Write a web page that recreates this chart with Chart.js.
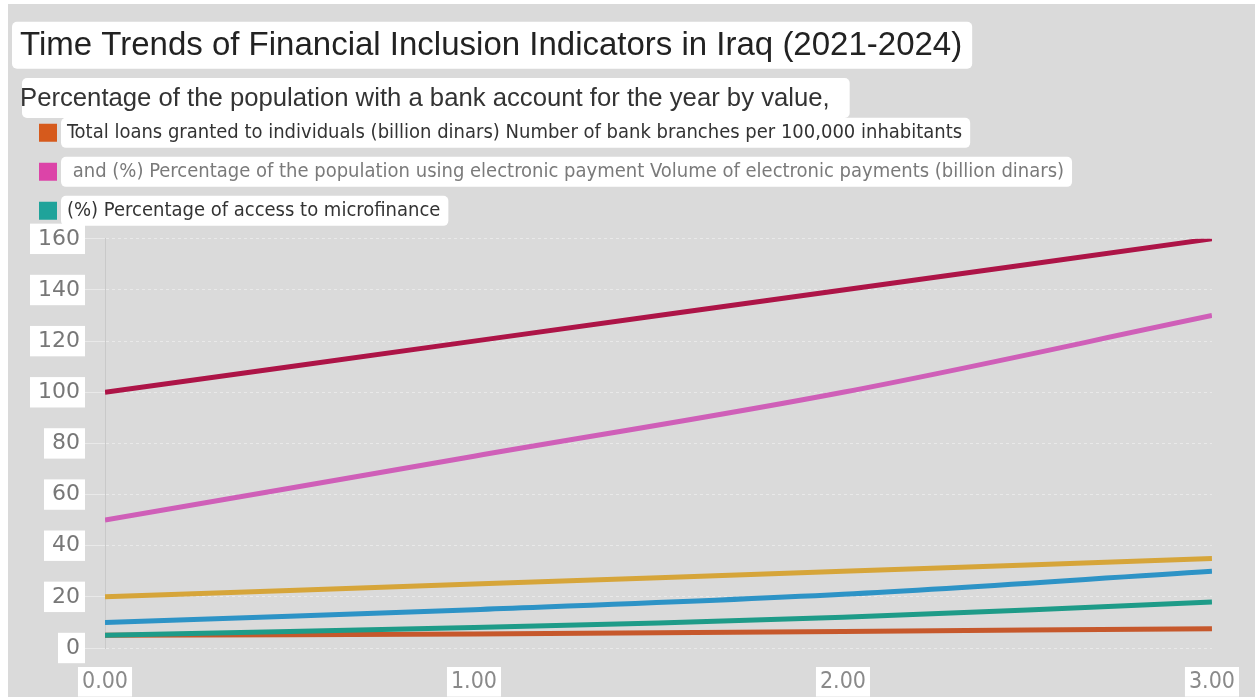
<!DOCTYPE html>
<html>
<head>
<meta charset="utf-8">
<script src="https://cdn.jsdelivr.net/npm/chart.js@4/dist/chart.umd.min.js"></script>
<style>
  body { margin: 0; background: #ffffff; }
  #wrap { width: 1255px; height: 697px; position: relative; }
</style>
</head>
<body>
<div id="wrap"><canvas id="trendChart"></canvas></div>
<script>
// ==========================
// DATA
// ==========================
const years = [0, 1, 2, 3];

const bankAccount = [100, 120, 140, 160];
const electronicPayments = [50, 75, 100, 130];
const loans = [20, 25, 30, 35];
const branches = [10, 15, 21, 30];
const microfinance = [5, 8, 12, 18];
const epayUsers = [5, 5.5, 6.5, 7.5];

const titleText = 'Time Trends of Financial Inclusion Indicators in Iraq (2021-2024)';
const subtitleText = 'Percentage of the population with a bank account for the year by value,';

const legendTexts = [
    'Total loans granted to individuals (billion dinars) Number of bank branches per 100,000 inhabitants',
    ' and (%) Percentage of the population using electronic payment Volume of electronic payments (billion dinars)',
    '(%) Percentage of access to microfinance'
];
const legendColors = ['#d65a1c', '#dc44a8', '#1fa39a'];
const legendTextColors = ['#333333', '#7a7a7a', '#333333'];

const yTicks = [0, 20, 40, 60, 80, 100, 120, 140, 160];


function toPoints(values) {
    return values.map((v, i) => ({ x: years[i], y: v }));
}

const TITLE_SIZE = 33;
const TITLE_PAD = 26;
const SUB_SIZE = 25.7;
const NARROW = '"Liberation Sans Narrow", "DejaVu Sans Condensed", Arial, sans-serif';


// ==========================
// BACKGROUND + WHITE LABEL BOXES
// ==========================
const highlightPlugin = {
    id: 'highlight',
    beforeUpdate(chart) {
        // a bit more room between the legend and the plot
        const lg = chart.legend;
        if (lg && !lg._extraRoom) {
            const fit = lg.fit.bind(lg);
            lg.fit = function () { fit(); this.height += 8; };
            lg._extraRoom = true;
        }
    },
    beforeDraw(chart) {
        const c = chart.ctx;
        c.save();
        c.fillStyle = '#dadada';
        c.fillRect(8, 4, chart.width - 8, chart.height - 4);

        c.fillStyle = '#ffffff';

        // title
        const tb = chart.titleBlock;
        c.font = TITLE_SIZE + 'px "Liberation Sans", Arial, sans-serif';
        const tw = c.measureText(titleText).width;
        const tMid = tb.top + TITLE_PAD + TITLE_SIZE * 0.6;
        roundBox(c, tb.left - 8, tMid - 24, tw + 18, 47);

        // subtitle
        c.font = SUB_SIZE + 'px "Liberation Sans", Arial, sans-serif';
        const sw = c.measureText(subtitleText).width;
        roundBox(c, tb.left + 2, 78, sw + 18, 40);

        // legend rows
        chart.legend.legendHitBoxes.forEach(hb => {
            roundBox(c, hb.left + 22, hb.top - 5, hb.width - 14, hb.height + 10);
        });

        c.restore();
    }
};

function roundBox(c, x, y, w, h) {
    c.beginPath();
    c.roundRect(x, y, w, h, 5);
    c.fill();
}


// ==========================
// CHART
// ==========================
const ctx = document.getElementById('trendChart').getContext('2d');

const trendChart = new Chart(ctx, {

    type: 'line',

    data: {

        datasets: [
            { label: 'bank', data: toPoints(bankAccount), borderColor: '#ad1447' },
            { label: 'epay', data: toPoints(electronicPayments), borderColor: '#cf5fb8' },
            { label: 'loans', data: toPoints(loans), borderColor: '#d6a53a' },
            { label: 'branches', data: toPoints(branches), borderColor: '#2d93c6' },
            { label: 'micro', data: toPoints(microfinance), borderColor: '#1e9b88' },
            { label: 'users', data: toPoints(epayUsers), borderColor: '#c6582c' }
        ]

    },

    options: {

        responsive: true,

        maintainAspectRatio: false,

        animation: false,

        elements: {
            line: { borderWidth: 5, tension: 0.35, fill: false },
            point: { radius: 0 }
        },

        layout: {
            padding: { left: 20, right: 26, top: 0, bottom: 0 }
        },

        plugins: {

            title: {
                display: true,
                text: titleText,
                align: 'start',
                color: '#222222',
                font: { family: '"Liberation Sans", Arial, sans-serif', size: TITLE_SIZE, weight: 'normal' },
                padding: { top: TITLE_PAD, bottom: 12 }
            },

            subtitle: {
                display: true,
                text: subtitleText,
                align: 'start',
                color: '#333333',
                font: { family: '"Liberation Sans", Arial, sans-serif', size: SUB_SIZE, lineHeight: 0.36 },
                padding: { top: 17, bottom: 0 }
            },

            legend: {
                align: 'start',
                labels: {
                    boxWidth: 18,
                    boxHeight: 18,
                    padding: 19,
                    font: { family: NARROW, size: 20 },
                    generateLabels: () => legendTexts.map((t, i) => ({
                        text: t,
                        fillStyle: legendColors[i],
                        strokeStyle: legendColors[i],
                        lineWidth: 0,
                        fontColor: legendTextColors[i],
                        hidden: false,
                        datasetIndex: i
                    }))
                }
            },

            tooltip: { enabled: false }

        },

        scales: {

            x: {
                type: 'linear',
                min: 0,
                max: 3,
                afterFit: s => { s.height = 49; },
                grid: { display: false, drawTicks: false },
                border: { display: false },
                ticks: {
                    stepSize: 1,
                    padding: 20,
                    color: '#8a8a8a',
                    font: { family: NARROW, size: 23 },
                    showLabelBackdrop: true,
                    backdropColor: '#ffffff',
                    backdropPadding: { left: 4, right: 4, top: 1, bottom: 1 },
                    callback: v => Number(v).toFixed(2)
                }
            },

            y: {
                min: 0,
                max: 160,
                afterFit: s => { s.width = 85; },
                afterBuildTicks: s => { s.ticks = yTicks.map(v => ({ value: v })); },
                grid: { color: '#e9e9e9', lineWidth: 1, tickLength: 20 },
                border: { display: true, color: '#c9c9c9', dash: [3, 3] },
                ticks: {
                    padding: 5,
                    color: '#777777',
                    font: { family: '"DejaVu Sans", sans-serif', size: 22 },
                    showLabelBackdrop: true,
                    backdropColor: '#ffffff',
                    backdropPadding: { left: 8, right: 5, top: 2, bottom: 2 }
                }
            }

        }

    },

    plugins: [highlightPlugin]

});
</script>
</body>
</html>
